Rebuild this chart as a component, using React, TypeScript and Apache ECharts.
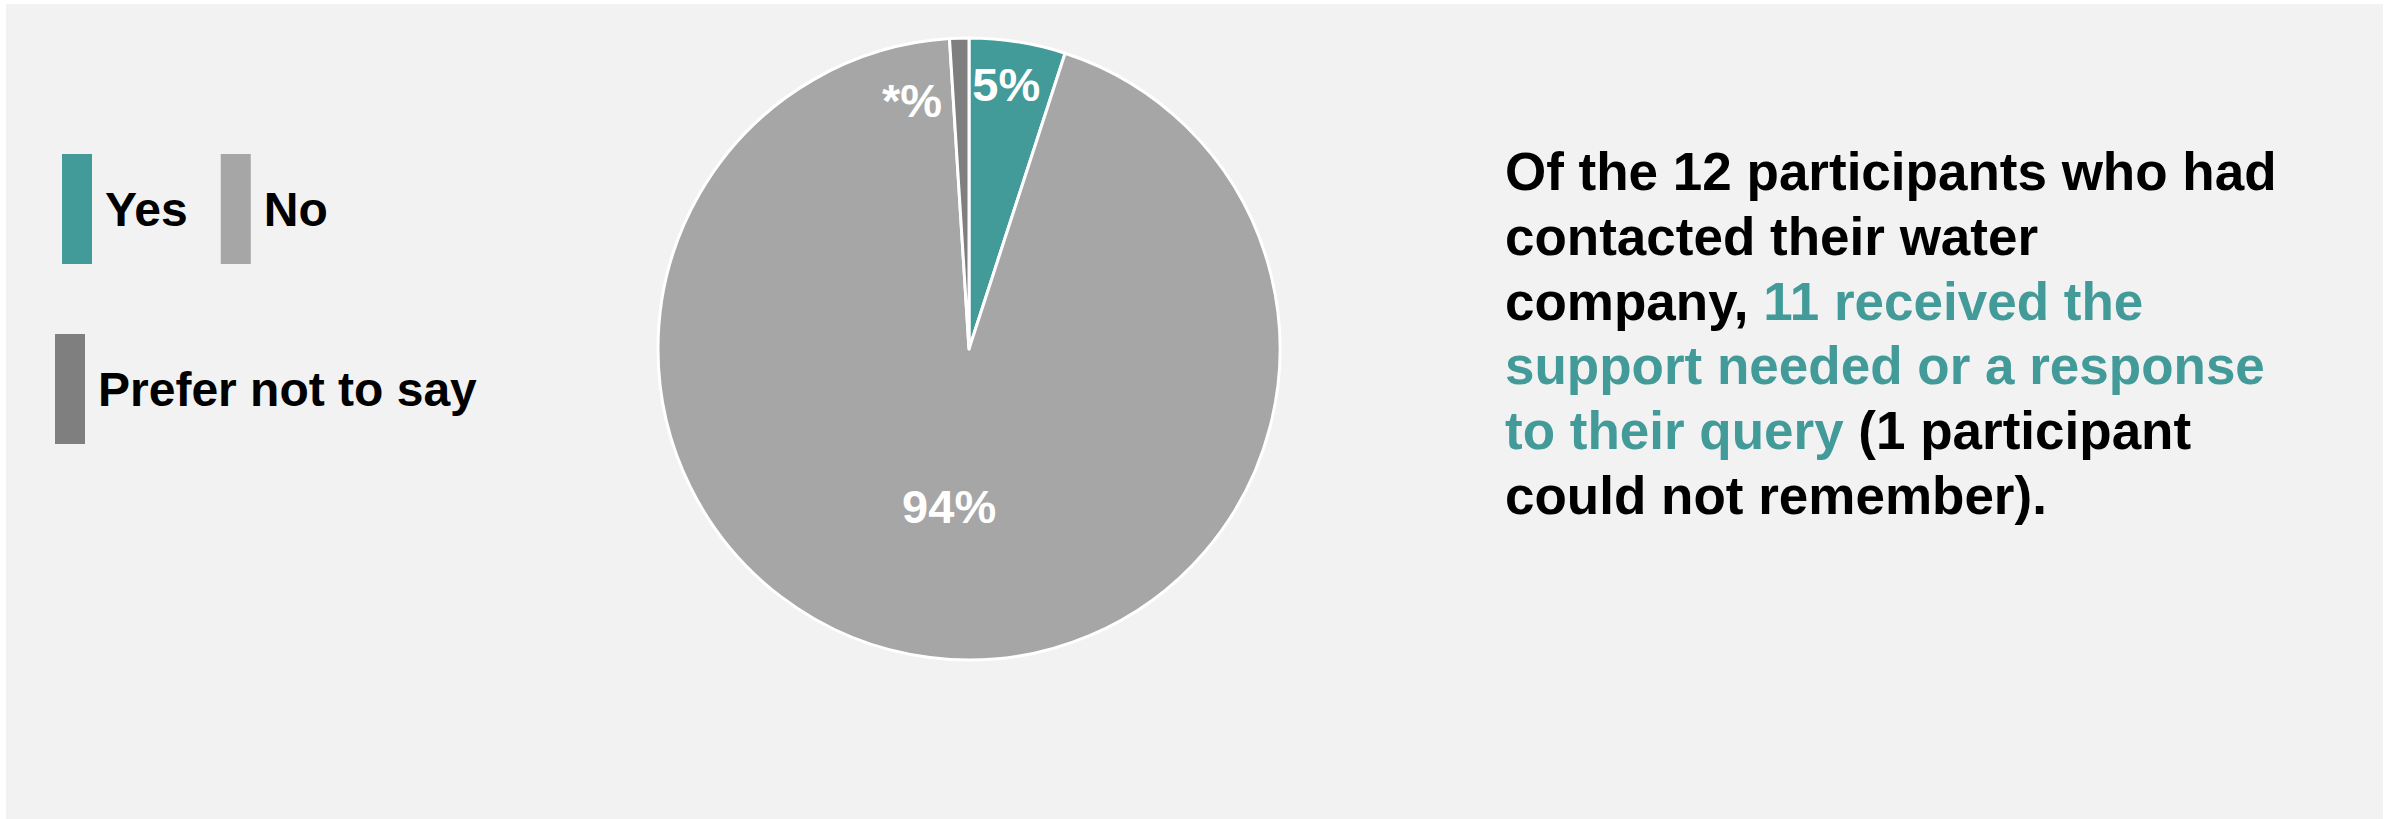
import React, { useEffect, useRef } from "react";
import * as echarts from "echarts";

// ---- data ----
const categories = ["Yes", "No", "Prefer not to say"];
const values = [5, 94, 1];
const valueLabels = ["5%", "94%", "*%"];
const sliceColors = ["#429A99", "#A6A6A6", "#7F7F7F"];

const noteLines = [
  [{ t: "Of the 12 participants who had", s: "b" }],
  [{ t: "contacted their water", s: "b" }],
  [{ t: "company, ", s: "b" }, { t: "11 received the", s: "h" }],
  [{ t: "support needed or a response", s: "h" }],
  [{ t: "to their query", s: "h" }, { t: " (1 participant", s: "b" }],
  [{ t: "could not remember).", s: "b" }],
];

// ---- layout ----
const W = 2397;
const H = 819;
const CX = 969;
const CY = 349;
const R = 311;
const FONT = '"Liberation Sans", Arial, sans-serif';
// polar placement of labels that sit off the default inside position: [angleDeg from 12 o'clock, radius fraction]
const labelPolar: Record<number, [number, number]> = {
  0: [8, 0.86],
  2: [-12.9, 0.82],
};

const legendText = {
  fontFamily: FONT,
  fontWeight: "bold",
  fontSize: 48,
  color: "#000000",
  padding: [0, 0, 0, 8],
};

export default function App() {
  const ref = useRef<HTMLDivElement>(null);

  useEffect(() => {
    if (!ref.current) return;
    const chart = echarts.init(ref.current, null, { renderer: "svg" });

    const richText = noteLines
      .map((line) => line.map((seg) => `{${seg.s}|${seg.t}}`).join(""))
      .join("\n");

    chart.setOption({
      animation: false,
      backgroundColor: "#FFFFFF",
      color: sliceColors,
      graphic: [
        {
          type: "rect",
          z: -10,
          shape: { x: 6, y: 4, width: 2377, height: 815 },
          style: { fill: "#F2F2F2" },
          silent: true,
        },
        {
          type: "text",
          x: 1505,
          y: 139,
          style: {
            text: richText,
            verticalAlign: "top",
            align: "left",
            rich: {
              b: {
                fontFamily: FONT,
                fontWeight: "bold",
                fontSize: 53,
                lineHeight: 64.8,
                fill: "#000000",
              },
              h: {
                fontFamily: FONT,
                fontWeight: "bold",
                fontSize: 53,
                lineHeight: 64.8,
                fill: "#429A99",
              },
            },
          },
        },
      ],
      legend: [
        {
          data: categories.slice(0, 2),
          left: 62,
          top: 154,
          padding: 0,
          orient: "horizontal",
          icon: "rect",
          itemWidth: 30,
          itemHeight: 110,
          itemGap: 33,
          selectedMode: false,
          itemStyle: { borderWidth: 0 },
          textStyle: legendText,
        },
        {
          data: categories.slice(2),
          left: 55,
          top: 334,
          padding: 0,
          icon: "rect",
          itemWidth: 30,
          itemHeight: 110,
          selectedMode: false,
          itemStyle: { borderWidth: 0 },
          textStyle: legendText,
        },
      ],
      series: [
        {
          type: "pie",
          center: [CX, CY],
          radius: [0, R],
          startAngle: 90,
          clockwise: true,
          avoidLabelOverlap: false,
          itemStyle: { borderColor: "#FFFFFF", borderWidth: 3 },
          label: {
            show: true,
            position: "inside",
            fontFamily: FONT,
            fontWeight: "bold",
            fontSize: 47,
            color: "#FFFFFF",
            formatter: (p: any) => valueLabels[p.dataIndex],
          },
          labelLine: { show: false },
          emphasis: { disabled: true },
          labelLayout: (p: any) => {
            const pol = labelPolar[p.dataIndex];
            if (!pol) return {};
            const a = (pol[0] * Math.PI) / 180;
            return {
              x: CX + R * pol[1] * Math.sin(a),
              y: CY - R * pol[1] * Math.cos(a),
              align: "center",
              verticalAlign: "middle",
            };
          },
          data: categories.map((name, i) => ({ name, value: values[i] })),
        },
      ],
    });

    return () => chart.dispose();
  }, []);

  return (
    <div
      ref={ref}
      style={{ position: "absolute", left: 0, top: 0, width: W, height: H }}
    />
  );
}
